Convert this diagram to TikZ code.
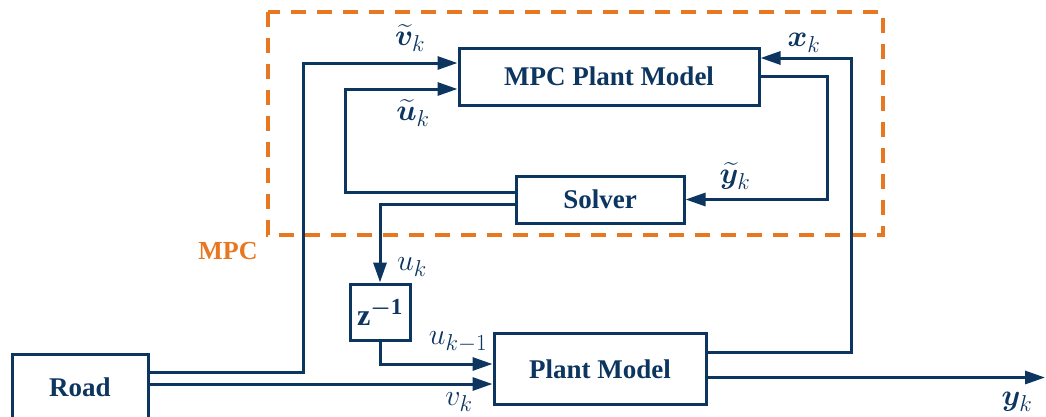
\RequirePackage{fix-cm}
\documentclass[tikz,border=0pt]{standalone}
\usepackage{amsmath,bm}
\usepackage{fontspec}
\setmainfont{Liberation Serif}
\DeclareMathSizes{30}{30}{23}{18}
\usetikzlibrary{arrows.meta}
\definecolor{navy}{RGB}{12,53,95}
\definecolor{mpcorange}{RGB}{232,119,34}
\begin{document}
\begin{tikzpicture}[x=1pt,y=-1pt,
  blk/.style={draw=navy, line width=3pt, fill=white, text=navy,
    font=\fontsize{27}{30}\selectfont\bfseries, inner sep=0pt},
  conn/.style={draw=navy, line width=3pt, -{Triangle[length=20pt,width=13pt]}},
  lbl/.style={text=navy, font=\fontsize{30}{32}\selectfont, inner sep=0pt},
  mpcbox/.style={draw=mpcorange, line width=4pt, dash pattern=on 15pt off 11pt}]
\useasboundingbox (0,0) rectangle (1046,416);
% MPC region
\draw[mpcbox] (268,12) rectangle (883,235);
\node[text=mpcorange, font=\fontsize{26}{28}\selectfont\bfseries, inner sep=0pt] (mpclbl) at (228,251) {MPC};
% blocks
\node[blk, minimum width=300pt, minimum height=57pt] (mpcpm) at (609,76.5) {MPC Plant Model};
\node[blk, minimum width=168pt, minimum height=47pt] (solver) at (600,199.5) {Solver};
\node[blk, minimum width=136pt, minimum height=66pt] (road) at (80,387) {Road};
\node[blk, minimum width=60pt, minimum height=56pt, font=\fontsize{30}{32}\selectfont] (zbox) at (380,312) {$\mathbf{z}^{\bm{-}\mathbf{1}}$};
\node[blk, minimum width=212pt, minimum height=71pt] (plant) at (600,369) {Plant Model};
\coordinate (yout) at (1045,377.5);
% connectors
\draw[conn] ([yshift=15pt]road.east) -| (303,63) -- ([yshift=13.5pt]mpcpm.west);
\draw[conn] ([yshift=7.2pt]solver.west) -| (345,89) -- ([yshift=-12.5pt]mpcpm.west);
\draw[conn] ([yshift=-4.5pt]solver.west) -| (zbox.north);
\draw[conn] (zbox.south) |- ([yshift=5pt]plant.west);
\draw[conn] ([yshift=3pt]road.east) -- ([yshift=-15pt]plant.west);
\draw[conn] ([yshift=17pt]plant.east) -| (851,58) -- ([yshift=18.5pt]mpcpm.east);
\draw[conn] (mpcpm.east) -- ++(67,0) |- (solver.east);
\draw[conn] ([yshift=-8.5pt]plant.east) -- (yout);
% labels
\node[lbl] (lvt) at (410,38) {$\widetilde{\bm{v}}_k$};
\node[lbl] (lut) at (413,113) {$\widetilde{\bm{u}}_k$};
\node[lbl] (lxk) at (804,43) {$\bm{x}_k$};
\node[lbl] (lyt) at (735,176) {$\widetilde{\bm{y}}_k$};
\node[lbl] (luk) at (412,267) {$u_k$};
\node[lbl] (lukm) at (458,342) {$u_{k-1}$};
\node[lbl] (lvk) at (459,402) {$v_k$};
\node[lbl] (lyk) at (1017,402) {$\bm{y}_k$};
\end{tikzpicture}
\end{document}
